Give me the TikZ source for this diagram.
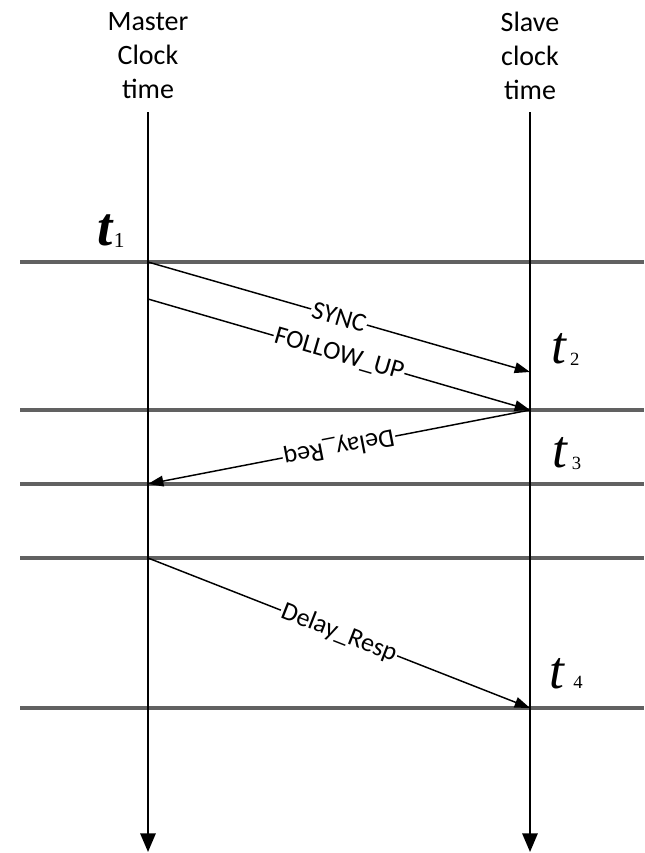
\documentclass[tikz,border=0pt]{standalone}
\usepackage{fontspec}
\setmainfont{Liberation Serif}
\newfontfamily\carl{Carlito}
\usetikzlibrary{arrows.meta}
\begin{document}
\begin{tikzpicture}[x=0.75pt,y=-0.75pt,
  axis/.style={line width=1.5pt,-{Triangle[length=14pt,width=11.5pt]}},
  level/.style={line width=2.4pt,draw=black!62},
  msg/.style={line width=1.1pt,-{Triangle[length=11.5pt,width=8pt]}},
  msglabel/.style={font=\carl\fontsize{19.5}{22}\selectfont,fill=white,inner sep=1pt,sloped,pos=0.5},
  header/.style={font=\carl\fontsize{21}{25.5}\selectfont,align=center,inner sep=0pt,anchor=north},
  tlabel/.style={inner sep=0pt,anchor=base west}]
\useasboundingbox (0,0) rectangle (644,853);
% header texts
\node[header] (mh) at (148,12) {Master\\Clock\\time};
\node[header] (sh) at (530,12) {Slave\\clock\\time};
% axis end points
\coordinate (m0) at (148,112);
\coordinate (m1) at (148,852);
\coordinate (s0) at (530,112);
\coordinate (s1) at (530,852);
% level lines
\foreach \y/\n in {262/h1,410/h2,484/h3,558/h4,708/h5}{
  \coordinate (\n l) at (20,\y);
  \coordinate (\n r) at (644,\y);
  \draw[level] (\n l) -- (\n r);
}
% axes
\draw[axis] (m0) -- (m1);
\draw[axis] (s0) -- (s1);
% message points
\coordinate (a1) at (148,262);
\coordinate (b1) at (530,372);
\coordinate (a2) at (148,299);
\coordinate (b2) at (530,410);
\coordinate (a3) at (148,484);
\coordinate (a4) at (148,558);
\coordinate (b4) at (530,708);
% messages
\draw[msg] (a1) -- node[msglabel] (lsync) {SYNC} (b1);
\draw[msg] (a2) -- node[msglabel] (lfol) {FOLLOW\_UP} (b2);
\draw[msg] (b2) -- node[msglabel,allow upside down] (lreq) {Delay\_Req} (a3);
\draw[msg] (a4) -- node[msglabel] (lresp) {Delay\_Resp} (b4);
% time labels
\node[tlabel] (t1) at (97,245) {{\fontsize{41}{41}\selectfont\bfseries\itshape t}\raisebox{-2pt}{\fontsize{16}{16}\selectfont\hspace{1pt}1}};
\node[tlabel] (t2) at (551,363) {{\fontsize{40}{40}\selectfont\itshape t}\raisebox{-1.5pt}{\fontsize{14}{14}\selectfont\hspace{3pt}2}};
\node[tlabel] (t3) at (552,467) {{\fontsize{40}{40}\selectfont\itshape t}\raisebox{-2pt}{\fontsize{14}{14}\selectfont\hspace{3.5pt}3}};
\node[tlabel] (t4) at (549,688) {{\fontsize{40}{40}\selectfont\itshape t}{\fontsize{14}{14}\selectfont\hspace{7pt}4}};
\end{tikzpicture}
\end{document}
